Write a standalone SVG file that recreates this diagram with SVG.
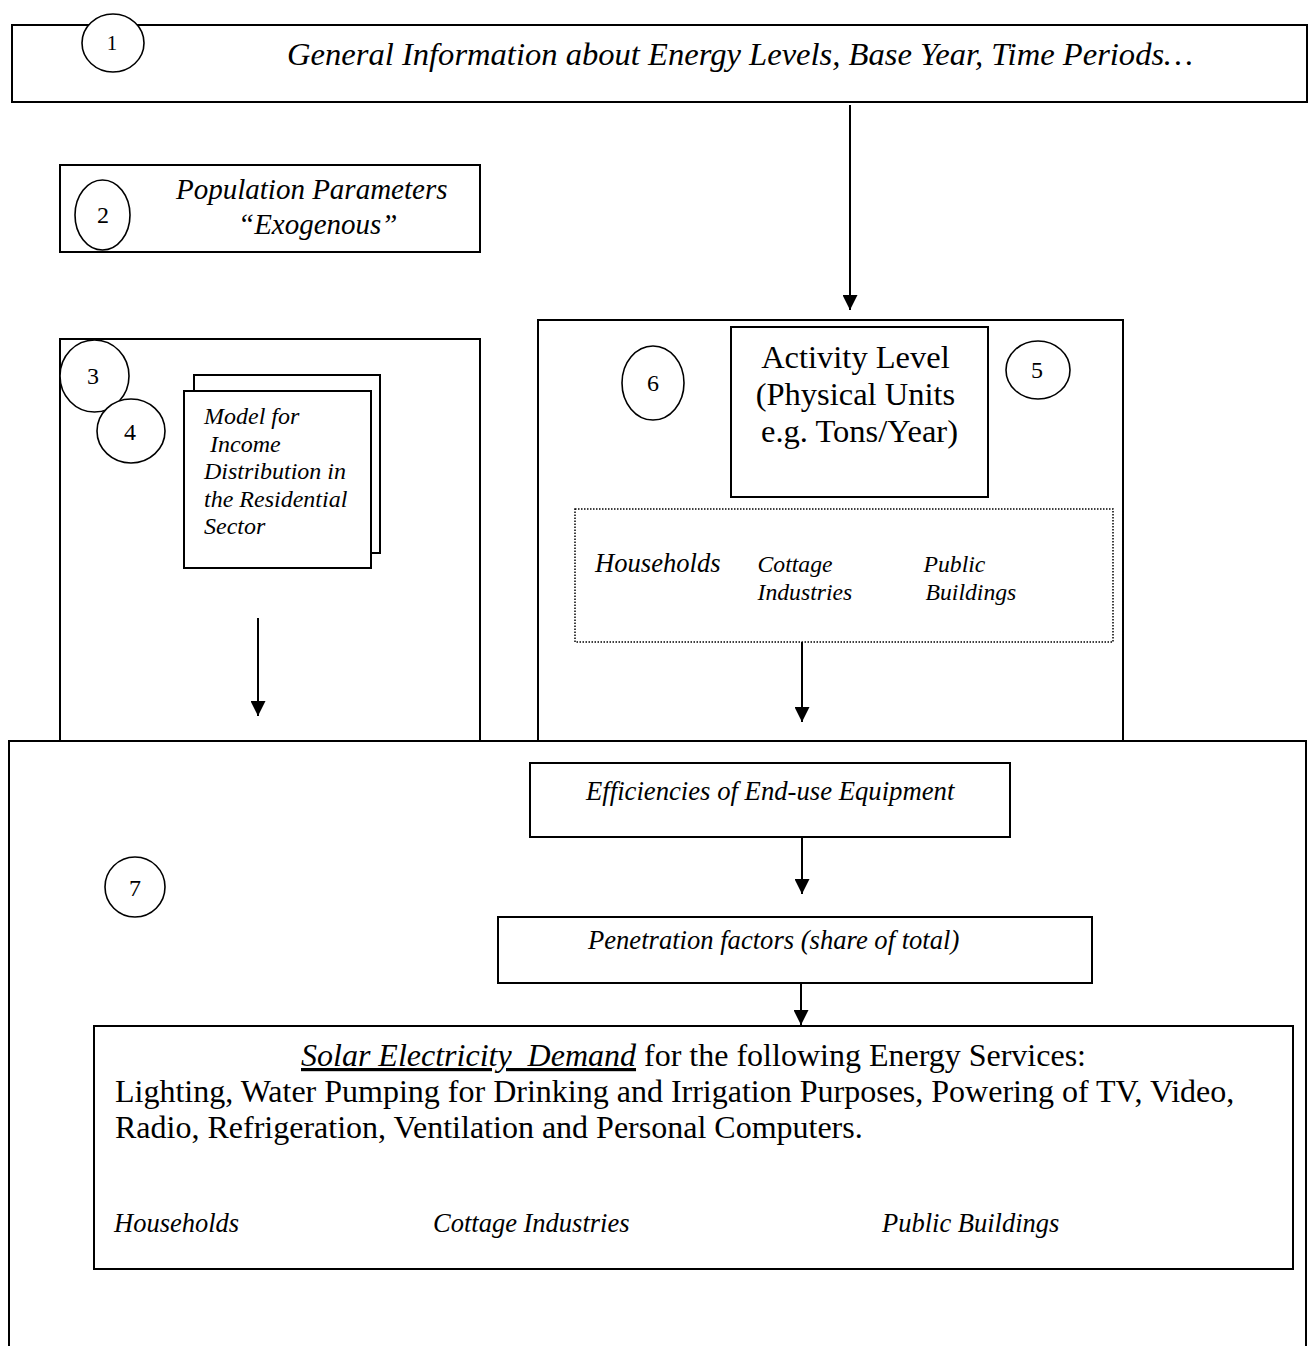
<svg xmlns="http://www.w3.org/2000/svg" width="1315" height="1346" viewBox="0 0 1315 1346">
<defs>
<marker id="ah" markerWidth="15" markerHeight="15" refX="15" refY="7.5" orient="auto" markerUnits="userSpaceOnUse" viewBox="0 0 15 15">
<path d="M0,0 L15,7.5 L0,15 Z" fill="#000"/>
</marker>
</defs>
<style>
.box{fill:#fff;stroke:#000;stroke-width:2}
.dot{fill:none;stroke:#000;stroke-width:1.5;stroke-dasharray:1.5 1.5}
.circ{fill:#fff;stroke:#000;stroke-width:1.6}
.t{font-family:"Liberation Serif","Times New Roman",serif;fill:#000}
.i{font-style:italic}
.num{font-size:24px;text-anchor:middle}
.conn{stroke:#000;stroke-width:2;fill:none}
</style>
<rect width="1315" height="1346" fill="#fff"/>

<g id="node1">
<rect class="box" x="12" y="25" width="1295" height="77"/>
<ellipse class="circ" cx="113" cy="43" rx="31" ry="29"/>
<text class="t num" x="112" y="50" style="font-size:21px">1</text>
<text class="t i" x="287" y="65" font-size="32.6">General Information about Energy Levels, Base Year, Time Periods…</text>
</g>

<g id="node2">
<rect class="box" x="60" y="165" width="420" height="87"/>
<ellipse class="circ" cx="102.5" cy="215" rx="27.5" ry="35"/>
<text class="t num" x="103" y="223">2</text>
<text class="t i" x="176" y="199" font-size="29">Population Parameters</text>
<text class="t i" x="238" y="234" font-size="29">“Exogenous”</text>
</g>

<g id="node3">
<rect class="box" x="60" y="339" width="420" height="420"/>
<ellipse class="circ" cx="94.5" cy="376" rx="34.5" ry="36"/>
<text class="t num" x="93" y="384">3</text>
</g>

<g id="node4">
<ellipse class="circ" cx="131" cy="431" rx="34" ry="32"/>
<text class="t num" x="130" y="440">4</text>
<rect class="box" x="194" y="375" width="186" height="178"/>
<rect class="box" x="184" y="391" width="187" height="177"/>
<text class="t i" font-size="24">
<tspan x="204" y="424">Model for</tspan>
<tspan x="204" y="452" xml:space="preserve"> Income</tspan>
<tspan x="204" y="479">Distribution in</tspan>
<tspan x="204" y="507">the Residential</tspan>
<tspan x="204" y="534">Sector</tspan>
</text>
</g>

<g id="node6">
<rect class="box" x="538" y="320" width="585" height="440"/>
<ellipse class="circ" cx="653" cy="383" rx="31" ry="37"/>
<text class="t num" x="653" y="391">6</text>
</g>

<g id="node5">
<ellipse class="circ" cx="1038" cy="370" rx="32" ry="29"/>
<text class="t num" x="1037" y="378">5</text>
<rect class="box" x="731" y="327" width="257" height="170"/>
<text class="t" font-size="32.5" text-anchor="middle">
<tspan x="859.5" y="368">Activity Level</tspan>
<tspan x="859.5" y="405">(Physical Units</tspan>
<tspan x="859.5" y="442">e.g. Tons/Year)</tspan>
</text>
</g>

<g id="sectors">
<rect class="dot" x="575" y="509" width="538" height="133"/>
<text class="t i" x="595" y="572" font-size="26.6">Households</text>
<text class="t i" font-size="23.7">
<tspan x="757.5" y="572">Cottage</tspan>
<tspan x="757.5" y="600">Industries</tspan>
<tspan x="923.5" y="572">Public</tspan>
<tspan x="925.5" y="600">Buildings</tspan>
</text>
</g>

<g id="node7">
<rect class="box" x="9" y="741" width="1297" height="640"/>
<ellipse class="circ" cx="135" cy="887" rx="30" ry="30"/>
<text class="t num" x="135" y="896">7</text>
</g>

<g id="efficiencies">
<rect class="box" x="530" y="763" width="480" height="74"/>
<text class="t i" x="586" y="800" font-size="26.7">Efficiencies of End-use Equipment</text>
</g>

<g id="penetration">
<rect class="box" x="498" y="917" width="594" height="66"/>
<text class="t i" x="588" y="949" font-size="26.6">Penetration factors (share of total)</text>
</g>

<g id="demand">
<rect class="box" x="94" y="1026" width="1199" height="243"/>
<text class="t" x="301" y="1066" font-size="32"><tspan font-style="italic" text-decoration="underline" xml:space="preserve">Solar Electricity  Demand</tspan> for the following Energy Services:</text>
<text class="t" x="115" y="1102" font-size="32">Lighting, Water Pumping for Drinking and Irrigation Purposes, Powering of TV, Video,</text>
<text class="t" x="115" y="1138" font-size="32">Radio, Refrigeration, Ventilation and Personal Computers.</text>
<text class="t i" x="114" y="1232" font-size="26.5">Households</text>
<text class="t i" x="433" y="1232" font-size="26.5">Cottage Industries</text>
<text class="t i" x="882" y="1232" font-size="26.5">Public Buildings</text>
</g>

<g id="connectors">
<line class="conn" x1="850" y1="105" x2="850" y2="310" marker-end="url(#ah)"/>
<line class="conn" x1="258" y1="618" x2="258" y2="716" marker-end="url(#ah)"/>
<line class="conn" x1="802" y1="642" x2="802" y2="722" marker-end="url(#ah)"/>
<line class="conn" x1="802" y1="837" x2="802" y2="894" marker-end="url(#ah)"/>
<line class="conn" x1="801" y1="983" x2="801" y2="1025" marker-end="url(#ah)"/>
</g>
</svg>
